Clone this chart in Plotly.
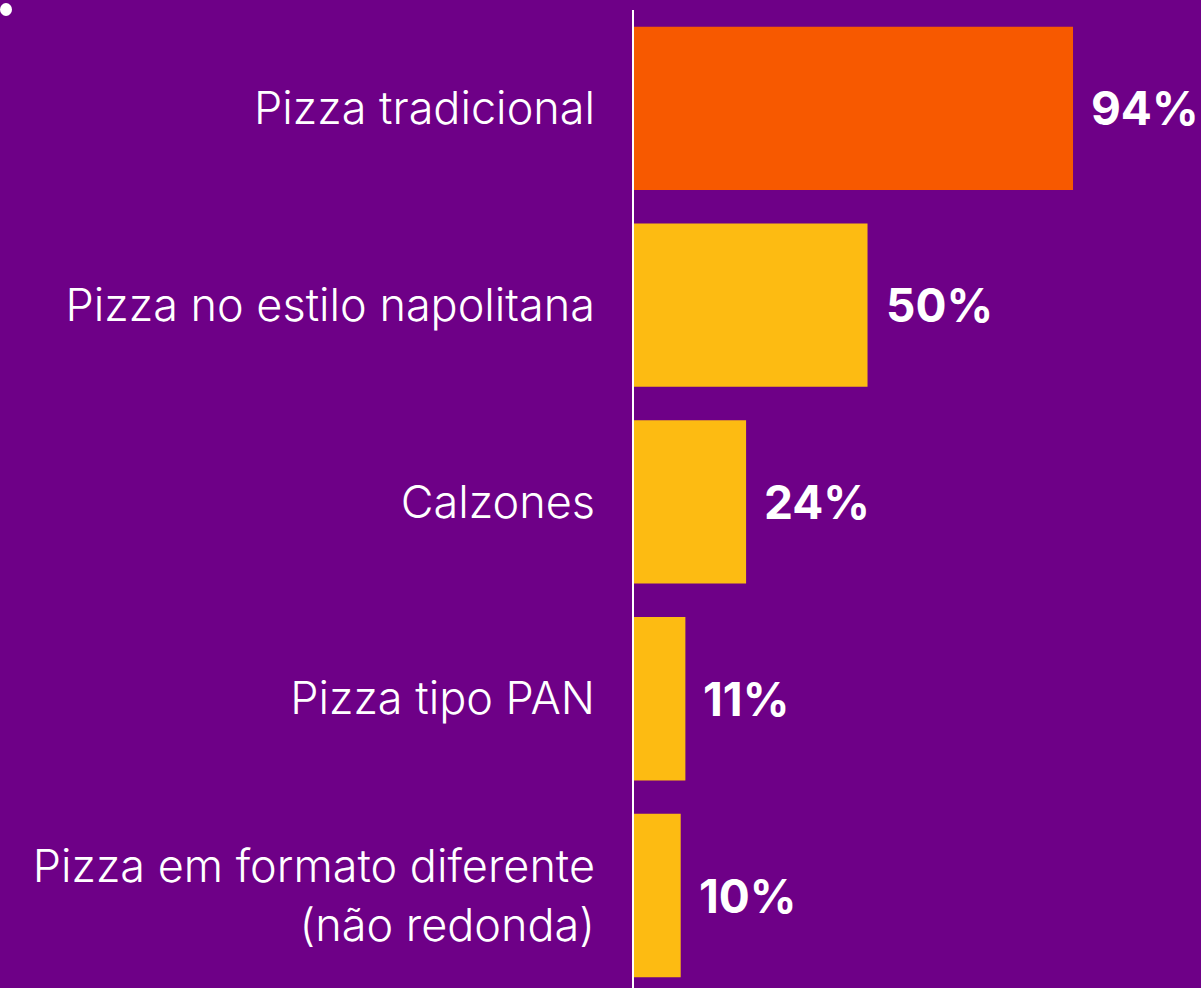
import plotly.graph_objects as go

# Data
categories = [
    "Pizza tradicional",
    "Pizza no estilo napolitana",
    "Calzones",
    "Pizza tipo PAN",
    "Pizza em formato diferente<br>(não redonda)",
]
values = [94, 50, 24, 11, 10]
value_labels = ["94%", "50%", "24%", "11%", "10%"]

BG = "rgb(110,0,135)"
ORANGE = "rgb(247,89,0)"
YELLOW = "rgb(253,187,18)"
bar_colors = [ORANGE] + [YELLOW] * (len(values) - 1)

fig = go.Figure(go.Bar(
    x=values,
    y=categories,
    orientation="h",
    marker=dict(color=bar_colors, line_width=0),
    hoverinfo="skip",
))

# value labels to the right of each bar
for cat, val, lab in zip(categories, values, value_labels):
    fig.add_annotation(
        x=val, y=cat, text=lab,
        xanchor="left", yanchor="middle", xshift=16, showarrow=False,
        font=dict(family="Inter", size=46, color="white", weight=700),
    )

# small white dot in the top-left corner
fig.add_shape(
    type="circle", xref="paper", yref="paper",
    xsizemode="pixel", ysizemode="pixel", xanchor=0, yanchor=1,
    x0=-634, x1=-622, y0=-6, y1=7,
    fillcolor="white", line_width=0,
)

fig.update_layout(
    width=1201, height=988,
    margin=dict(l=634, r=0, t=10, b=0),
    paper_bgcolor=BG, plot_bgcolor=BG,
    bargap=0.17,
    showlegend=False,
    font=dict(family="Inter", color="white"),
)
fig.update_xaxes(range=[0, 121.4], visible=False, showgrid=False, zeroline=False)
fig.update_yaxes(
    range=[4.47, -0.5], showgrid=False, zeroline=False,
    showline=True, linecolor="white", linewidth=2,
    ticks="", ticklabelstandoff=28,
    tickfont=dict(family="Inter", size=45, color="white", weight=300),
)

# no page margin so the figure fills the window
fig.write_html("out.html", config={"displayModeBar": False},
               post_script="document.body.style.margin='0';")
